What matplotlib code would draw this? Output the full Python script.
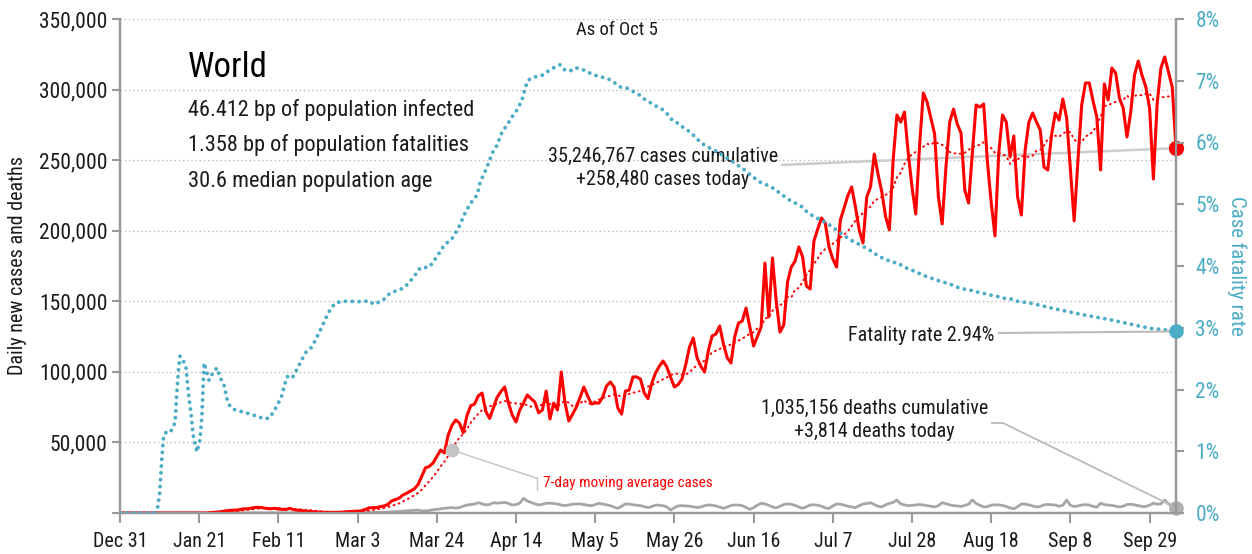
import matplotlib
matplotlib.use("Agg")
import matplotlib.pyplot as plt
import matplotlib.font_manager as fm
import numpy as np
import pandas as pd

# pick a condensed face if one is installed
names = {f.name for f in fm.fontManager.ttflist}
font = None
for cand in ['Roboto Condensed', 'Liberation Sans Narrow', 'Noto Sans Condensed',
             'Open Sans Condensed', 'DejaVu Sans Condensed']:
    if cand in names:
        font = cand
        break
if font is None:
    font = 'DejaVu Sans'
    plt.rcParams['font.stretch'] = 'condensed'
plt.rcParams['font.family'] = [font, 'DejaVu Sans']

# ---- data (one value per day, starting Dec 31) ----
tick_days = [0, 21, 42, 63, 84, 105, 126, 147, 168, 189, 210, 231, 252, 273]
tick_labels = ['Dec 31', 'Jan 21', 'Feb 11', 'Mar 3', 'Mar 24', 'Apr 14', 'May 5',
               'May 26', 'Jun 16', 'Jul 7', 'Jul 28', 'Aug 18', 'Sep 8', 'Sep 29']

daily_cases = [
    0, 0, 0, 0, 0, 0, 0, 0, 0, 0,
    0, 0, 0, 0, 0, 0, 0, 0, 0, 0,
    0, 0, 0, 0, 300, 500, 700, 1000, 1500, 1800,
    2000, 2100, 2600, 3000, 3000, 3500, 4000, 4000, 3600, 3200,
    3000, 3300, 2800, 2600, 2500, 3300, 2400, 2000, 1800, 1500,
    1200, 1000, 800, 600, 500, 400, 500, 400, 500, 600,
    900, 1000, 1200, 1300, 1500, 2500, 3600, 3800, 3800, 4500,
    5000, 6000, 8500, 9500, 10500, 12700, 14000, 15500, 17000, 20000,
    26000, 32000, 33000, 35400, 40000, 44600, 42500, 55000, 62000, 65900,
    63700, 57000, 69000, 76000, 77200, 83000, 85000, 72000, 67000, 74400,
    82000, 86000, 89300, 78000, 69400, 64500, 73000, 78000, 83600, 81000,
    78600, 71000, 73000, 86400, 66600, 77900, 73000, 99900, 78000, 65200,
    70000, 75100, 82000, 89300, 82900, 77200, 77900, 77900, 82200, 90000,
    92800, 89300, 74400, 70100, 86400, 87100, 96400, 96400, 94900, 85000,
    81000, 92000, 99200, 104000, 107700, 103400, 96000, 89300, 91000, 94900,
    105000, 117600, 124000, 110000, 104000, 99900, 115000, 125400, 126800, 132500,
    119700, 110000, 106300, 125000, 134600, 136000, 145200, 131800, 118300, 125000,
    131800, 177100, 138900, 180700, 150000, 128200, 133200, 163700, 174300, 178500,
    188500, 181400, 160800, 158700, 192700, 201200, 209000, 205500, 188500, 180000,
    174300, 207600, 216100, 225000, 231000, 216800, 200500, 191300, 223900, 231000,
    254300, 240000, 227400, 210000, 200500, 250000, 282000, 277000, 284100, 255000,
    231000, 211800, 260000, 297600, 291200, 280000, 268500, 223900, 204800, 245000,
    277000, 286200, 275600, 269200, 228800, 219600, 255000, 289100, 287600, 289800,
    248700, 220000, 196300, 255100, 282000, 277000, 252200, 267100, 223900, 211100,
    257200, 277000, 283400, 277000, 271400, 245100, 243000, 267800, 283400, 278400,
    293300, 279900, 243000, 206900, 250000, 289100, 304700, 304700, 292000, 280600,
    243000, 304000, 292600, 315300, 311700, 294000, 286900, 266400, 284100, 310300,
    320200, 310000, 301800, 286900, 236600, 290000, 315300, 323100, 312400, 301800,
    258480,
]

daily_deaths = [
    0, 0, 0, 0, 0, 0, 0, 0, 0, 0,
    0, 0, 0, 0, 0, 0, 0, 0, 0, 0,
    0, 30, 40, 50, 60, 60, 70, 80, 90, 90,
    100, 100, 110, 110, 120, 110, 110, 100, 100, 100,
    100, 100, 110, 120, 150, 140, 140, 130, 120, 110,
    100, 100, 90, 90, 80, 70, 70, 60, 60, 70,
    100, 120, 150, 200, 250, 300, 350, 400, 450, 500,
    600, 700, 800, 1000, 1100, 1300, 1500, 1700, 1900, 2100,
    1500, 1600, 1700, 2300, 2500, 3000, 3300, 3600, 3800, 3500,
    3800, 4800, 5700, 6000, 6300, 7300, 6500, 5700, 6000, 7300,
    7000, 7200, 7500, 6800, 5700, 5900, 7000, 10400, 8500, 7500,
    6500, 5700, 6200, 6900, 7000, 6700, 6400, 5600, 5300, 5700,
    6200, 6400, 6400, 6000, 5500, 5200, 6000, 6900, 6300, 5800,
    5200, 4200, 3300, 4800, 6400, 6300, 5800, 5500, 5200, 4500,
    3800, 4600, 5600, 5500, 5200, 4300, 2100, 3800, 5000, 5200,
    5000, 4800, 4400, 3900, 4300, 5200, 5700, 5500, 5000, 4200,
    3300, 4200, 5300, 5700, 5600, 5200, 4000, 2600, 3800, 5500,
    6900, 6400, 5500, 4300, 3600, 4800, 6000, 6400, 6200, 5400,
    4200, 3300, 4400, 5700, 5800, 5500, 4800, 3600, 3200, 5000,
    6400, 6200, 5600, 4800, 4300, 3800, 5200, 6400, 6700, 7300,
    6000, 4800, 4300, 5800, 6800, 7500, 9200, 6500, 5700, 5200,
    5400, 5700, 6000, 5700, 5200, 4800, 4300, 5200, 7300, 6600,
    5800, 5200, 5000, 4600, 5400, 6200, 9200, 6800, 5500, 4300,
    4500, 5600, 5800, 5700, 5400, 4600, 3600, 3000, 4500, 6400,
    6200, 5800, 5000, 4300, 4600, 5800, 6000, 5900, 5600, 4800,
    5500, 9200, 5500, 4600, 5000, 5700, 5900, 5600, 4700, 4200,
    6900, 6000, 5600, 5400, 4800, 4300, 4800, 6000, 6200, 5800,
    5200, 4600, 4600, 5600, 6900, 6200, 6500, 9200, 6400, 5200,
    3814,
]

# case fatality rate (%), read at these days
cfr_days = [0, 9, 10, 10.5, 11, 11.5, 12, 13.3, 14.6, 15, 15.5, 15.9, 16.8, 17.5, 18.1,
            18.8, 19.4, 20.4, 21.2, 21.7, 22.3, 23, 23.6, 24.6, 25.7, 26.5, 27.6, 28.3,
            29.2, 30.5, 33.6, 37.1, 38.5, 39.8, 41.5, 42.8, 44.2, 45, 45.8, 47.3, 49.1,
            50.9, 52.2, 53.5, 55.2, 57, 59.2, 61, 62.8, 64.5, 66.3, 67.2, 68.1, 69.8,
            71.6, 73.8, 75.1, 76.5, 78.7, 79.6, 82, 84, 86, 88, 89.7, 91.5, 93, 94.7,
            95.5, 97.3, 98.7, 100, 101.3, 102.6, 103.9, 105.3, 106.6, 107.4, 108.2, 110,
            112, 113.6, 115, 116.7, 118, 119.4, 120.8, 122.4, 124, 125.9, 127.8, 129.5,
            131.3, 132.6, 134.4, 136, 137.7, 139.3, 140.8, 142.4, 144, 145.3, 146.6, 148,
            149.6, 151.2, 152.5, 153.8, 155.6, 157.2, 158.8, 160.4, 161.8, 163.3, 164.9,
            166.5, 167.9, 169.7, 171.6, 173.2, 175, 177.2, 179, 180.8, 182.4, 184.3, 186,
            187.8, 190, 193, 194.6, 196.4, 198, 199.6, 201, 203, 204.7, 206.3, 207.9,
            209.7, 211.3, 212.9, 214.8, 216.6, 218.2, 220, 221.9, 223.5, 225.4, 227.2,
            228.8, 230.7, 232.5, 234.1, 236, 237.8, 241.3, 248.4, 255.4, 262.5, 267.8,
            273.1, 276.5, 280]
cfr_pct = [0, 0, 0.1, 0.3, 0.8, 1.2, 1.3, 1.3, 1.46, 1.88, 2.32, 2.54, 2.46, 2.35, 1.96,
           1.62, 1.26, 0.99, 1.18, 1.55, 2.43, 2.28, 2.15, 2.27, 2.35, 2.2, 2.07, 1.86,
           1.72, 1.67, 1.62, 1.55, 1.52, 1.55, 1.72, 1.88, 2.2, 2.23, 2.2, 2.37, 2.59,
           2.69, 2.85, 3.01, 3.24, 3.4, 3.43, 3.43, 3.42, 3.43, 3.43, 3.38, 3.4, 3.45,
           3.56, 3.61, 3.64, 3.72, 3.89, 3.97, 3.98, 4.15, 4.34, 4.44, 4.61, 4.86, 5.02,
           5.15, 5.36, 5.6, 5.83, 5.96, 6.17, 6.28, 6.41, 6.53, 6.69, 6.88, 7.01, 7.06,
           7.09, 7.16, 7.21, 7.26, 7.17, 7.16, 7.21, 7.19, 7.14, 7.09, 7.06, 7.03, 6.96,
           6.9, 6.88, 6.83, 6.77, 6.69, 6.64, 6.58, 6.53, 6.45, 6.35, 6.31, 6.23, 6.17,
           6.09, 6.01, 5.93, 5.89, 5.83, 5.77, 5.72, 5.65, 5.59, 5.51, 5.44, 5.36, 5.31,
           5.26, 5.18, 5.08, 5.02, 4.96, 4.86, 4.79, 4.74, 4.68, 4.58, 4.45, 4.39, 4.34,
           4.28, 4.23, 4.16, 4.11, 4.06, 4.05, 3.98, 3.94, 3.9, 3.85, 3.81, 3.77, 3.74,
           3.71, 3.66, 3.63, 3.61, 3.58, 3.56, 3.53, 3.51, 3.48, 3.47, 3.43, 3.4, 3.3,
           3.21, 3.13, 3.06, 2.99, 2.97, 2.94]

days = np.arange(len(daily_cases))
cases = pd.Series(daily_cases, index=days)
deaths = pd.Series(daily_deaths, index=days)
cases_ma = cases.rolling(7).mean()

RED = '#ff0000'
BLUE = '#4bacc6'
GREY = '#a6a6a6'
AXIS = '#999999'
TXT = '#1a1a1a'

fig = plt.figure(figsize=(12.52, 5.54), dpi=100)
ax = fig.add_axes([120 / 1252, 41 / 554, 1056 / 1252, 494 / 554])
ax2 = ax.twinx()

# grid
ax.set_ylim(0, 350000)
ax.set_xlim(0, days[-1])
ax.set_yticks(range(0, 350001, 50000))
ax.set_yticklabels([''] + [f'{v:,}' for v in range(50000, 350001, 50000)])
ax.yaxis.grid(True, color='#bbbbbb', linestyle=(0, (1, 2)), linewidth=1)
ax.set_axisbelow(True)

ax.plot(days, deaths, color=GREY, lw=2, zorder=3)
ax.plot(days, cases_ma, color=RED, lw=1.4, linestyle=(0, (0.5, 2.2)),
        dash_capstyle='round', zorder=4)
ax.plot(days, cases, color=RED, lw=2.2, zorder=5)

ax2.set_ylim(0, 8)
ax2.plot(cfr_days, cfr_pct, color=BLUE, lw=2.8, linestyle=(0, (0.01, 1.75)),
         dash_capstyle='round', zorder=3)

# end dots
ax.scatter([days[-1]], [daily_cases[-1]], s=100, color=RED, zorder=6, clip_on=False)
ax.scatter([days[-1]], [daily_deaths[-1]], s=90, color='#b0b0b0', zorder=6, clip_on=False)
ax2.scatter([cfr_days[-1]], [cfr_pct[-1]], s=90, color=BLUE, zorder=6, clip_on=False)

# spines / ticks
for a in (ax, ax2):
    a.spines['top'].set_visible(False)
    for s in ('left', 'right', 'bottom'):
        a.spines[s].set_color(AXIS)
        a.spines[s].set_linewidth(1.6)
ax.set_xticks(tick_days)
ax.set_xticklabels(tick_labels)
ax.tick_params(axis='x', length=7, width=1.5, color=AXIS, labelsize=14.5,
               labelcolor=TXT, pad=7)
ax.tick_params(axis='y', length=6, width=1.5, color=AXIS, labelsize=15.5,
               labelcolor=TXT, pad=3)
ax2.set_yticks(range(0, 9))
ax2.set_yticklabels([f'{v}%' for v in range(0, 9)])
ax2.tick_params(axis='y', length=6, width=1.5, color=AXIS, labelsize=15.5,
                labelcolor=BLUE, pad=8)

fig.text(18 / 1252, 1 - 266 / 554, 'Daily new cases and deaths', rotation=90,
         ha='center', va='center', fontsize=14.5, color=TXT)
fig.text(1237 / 1252, 1 - 266 / 554, 'Case fatality rate', rotation=270,
         ha='center', va='center', fontsize=15, color=BLUE)

# text blocks
ax.text(0.0644, 0.901, 'World', transform=ax.transAxes, fontsize=25,
        ha='left', va='center', color='#000000')
ax.text(0.0644, 0.816, '46.412 bp of population infected', transform=ax.transAxes,
        fontsize=16, ha='left', va='center', color=TXT)
ax.text(0.0644, 0.745, '1.358 bp of population fatalities', transform=ax.transAxes,
        fontsize=16, ha='left', va='center', color=TXT)
ax.text(0.0644, 0.672, '30.6 median population age', transform=ax.transAxes,
        fontsize=16, ha='left', va='center', color=TXT)
ax.text(0.4706, 0.978, 'As of Oct 5', transform=ax.transAxes, fontsize=13.5,
        ha='center', va='center', color=TXT)

# cases callout
ax.text(0.514, 0.699, '35,246,767 cases cumulative\n+258,480 cases today',
        transform=ax.transAxes, fontsize=14.5, ha='center', va='center',
        linespacing=1.25, color=TXT)
ax.annotate('', xy=(days[-1], daily_cases[-1]), xytext=(175.5, 246600),
            arrowprops=dict(arrowstyle='-', color='#cccccc', lw=1.8,
                            shrinkA=0, shrinkB=0), zorder=2)

# fatality callout
ax.text(0.828, 0.360, 'Fatality rate 2.94%', transform=ax.transAxes, fontsize=14.5,
        ha='right', va='center', color=TXT)
ax2.annotate('', xy=(cfr_days[-1], cfr_pct[-1]), xytext=(233.0, 2.915),
             arrowprops=dict(arrowstyle='-', color='#bbbbbb', lw=1.5,
                             shrinkA=0, shrinkB=0))

# deaths callout
ax.text(0.7145, 0.188, '1,035,156 deaths cumulative\n+3,814 deaths today',
        transform=ax.transAxes, fontsize=14.5, ha='center', va='center',
        linespacing=1.25, color=TXT)
ax.plot([231.2, 234.1], [63800, 63800], color='#bbbbbb', lw=1.3)
ax.annotate('', xy=(days[-1], daily_deaths[-1]), xytext=(234.1, 63800),
            arrowprops=dict(arrowstyle='-', color='#bbbbbb', lw=1.3,
                            shrinkA=0, shrinkB=0))

# moving average label
ma_day = 88
ax.scatter([ma_day], [cases_ma[ma_day]], s=80, color='#c4c4c4', zorder=6)
ax.annotate('', xy=(ma_day, cases_ma[ma_day]), xytext=(110.7, 24500),
            arrowprops=dict(arrowstyle='-', color='#c4c4c4', lw=1,
                            shrinkA=0, shrinkB=0))
ax.plot([110.7, 110.7], [16300, 25500], color='#c4c4c4', lw=1)
ax.text(112.2, 21000, '7-day moving average cases', fontsize=11, color=RED,
        ha='left', va='center')

fig.savefig('out.png', dpi=100)
